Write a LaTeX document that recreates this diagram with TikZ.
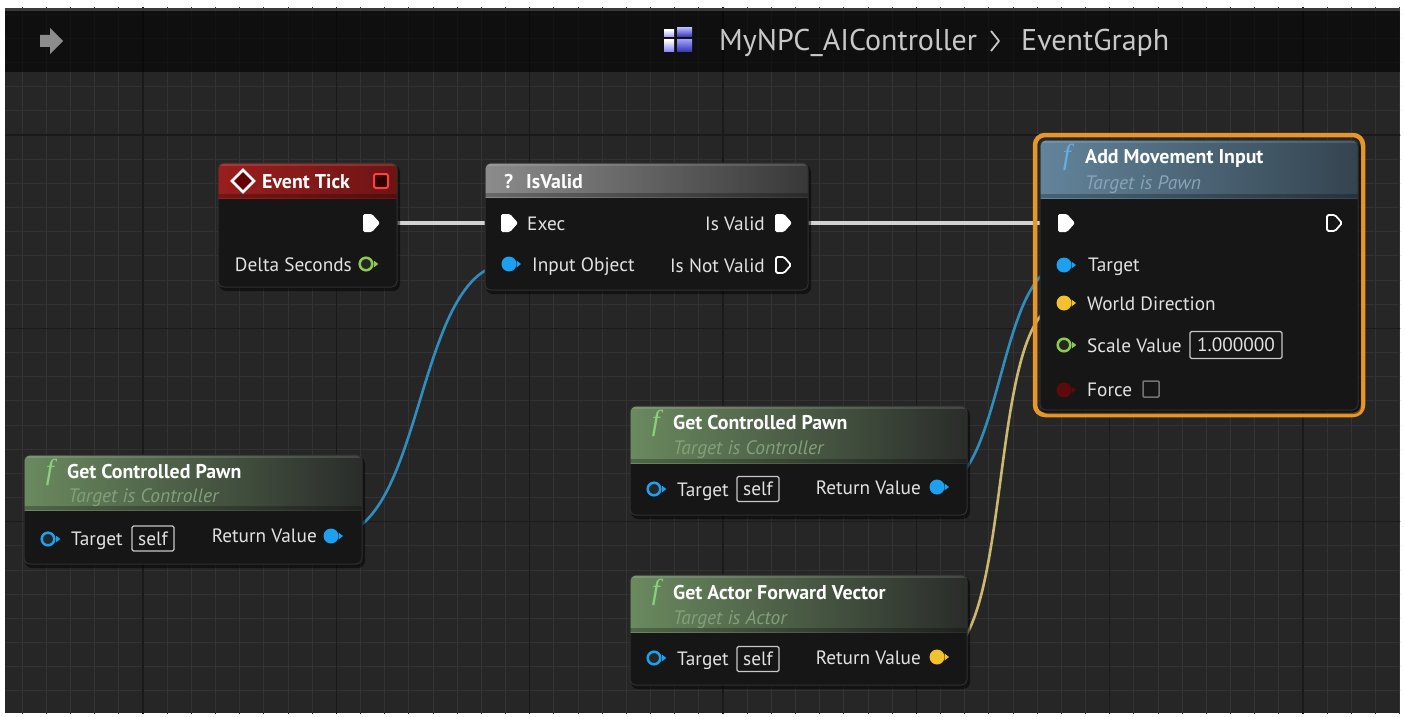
\documentclass[tikz,border=0pt]{standalone}
\usepackage{fontspec}
\setmainfont{PT Sans}
\newfontfamily\fserif{Liberation Serif}
\definecolor{bg}{HTML}{262626}
\definecolor{gridminor}{HTML}{333333}
\definecolor{gridmajor}{HTML}{1A1A1A}
\definecolor{nodebody}{HTML}{161616}
\definecolor{nodeedge}{HTML}{303030}
\definecolor{txt}{HTML}{E2E2E2}
\definecolor{pinblue}{HTML}{1EA0F0}
\definecolor{pinyellow}{HTML}{F2C12E}
\definecolor{pingreen}{HTML}{8CCB50}
\definecolor{pinred}{HTML}{5C0A0A}
\definecolor{wireblue}{HTML}{2F8DC0}
\definecolor{wireyellow}{HTML}{CDB872}
\definecolor{wirewhite}{HTML}{D2D2D2}
\definecolor{selorange}{HTML}{E8962A}
\definecolor{fgreen}{HTML}{8CCF7C}
\definecolor{fblue}{HTML}{62AEE6}
\definecolor{subgreen}{HTML}{83A07A}
\definecolor{subblue}{HTML}{8AA3B6}
\definecolor{titletxt}{HTML}{C8C8C8}
\definecolor{boxline}{HTML}{C8C8C8}
\definecolor{hdrredL}{HTML}{9A1E1E}
\definecolor{hdrredR}{HTML}{6E1414}
\definecolor{hdrgrayL}{HTML}{8C8C8C}
\definecolor{hdrgrayR}{HTML}{383838}
\definecolor{hdrblueL}{HTML}{62849B}
\definecolor{hdrblueR}{HTML}{34444F}
\definecolor{hdrgreenL}{HTML}{6A8A5F}
\definecolor{hdrgreenR}{HTML}{2A2C2A}

\newcommand{\bpnode}[7]{%
  \fill[black,opacity=0.5,rounded corners=7] (#1+1,#2+2) rectangle (#3+3,#4+4);
  \fill[nodebody,rounded corners=6] (#1,#2) rectangle (#3,#4);
  \begin{scope}
    \clip[rounded corners=6] (#1,#2) rectangle (#3,#4);
    \shade[left color=#6,right color=#7] (#1,#2) rectangle (#3,#5);
    \fill[white,opacity=0.12] (#1,#2) rectangle (#3,#2+3);
    \fill[black,opacity=0.25] (#1,#5-4) rectangle (#3,#5);
  \end{scope}
  \draw[nodeedge,line width=1,rounded corners=6] (#1,#2) rectangle (#3,#4);
}
\newcommand{\execpin}[1]{\fill[white,rounded corners=1.5] (#1) ++(-8,-9) -- ++(9,0) -- ++(8,9) -- ++(-8,9) -- ++(-9,0) -- cycle;}
\newcommand{\execpinhollow}[1]{\draw[white,line width=1.8,line join=round,rounded corners=1.5] (#1) ++(-7,-8) -- ++(8,0) -- ++(7,8) -- ++(-7,8) -- ++(-8,0) -- cycle;}
\newcommand{\datapin}[2]{\fill[#2] (#1) circle (7.5); \fill[#2] (#1) ++(7.5,-3.5) -- ++(4.5,3.5) -- ++(-4.5,3.5) -- cycle;}
\newcommand{\datapinhollow}[2]{\draw[#2,line width=2.5,fill=black!85] (#1) circle (6.3); \fill[#2] (#1) ++(7.8,-3.5) -- ++(4.5,3.5) -- ++(-4.5,3.5) -- cycle;}

\tikzset{
  lbl/.style={font=\fontsize{19.3}{22}\selectfont, text=txt, inner sep=0pt, anchor=base west, yshift=-7pt},
  lblr/.style={font=\fontsize{19.3}{22}\selectfont, text=txt, inner sep=0pt, anchor=base east, yshift=-7pt},
  ttl/.style={font=\bfseries\fontsize{19.9}{22}\selectfont, text=white, inner sep=0pt, anchor=base west, yshift=-7pt},
  sub/.style={font=\itshape\fontsize{19.5}{22}\selectfont, inner sep=0pt, anchor=base west, yshift=-7pt},
  crumb/.style={font=\fontsize{30}{34}\selectfont, text=titletxt, inner sep=0pt, anchor=base west},
  fsym/.style={font=\fserif\itshape\fontsize{29}{29}\selectfont, inner sep=0pt, anchor=base, yshift=-7pt},
  valbox/.style={draw=boxline, line width=1.2, rounded corners=1.5, font=\fontsize{19.3}{22}\selectfont, text=txt, inner sep=0pt},
  wire/.style={line width=2.6, line cap=round},
  execwire/.style={line width=3.2, wirewhite},
}

\begin{document}
\begin{tikzpicture}[x=1pt,y=-1pt]
\useasboundingbox (0,0) rectangle (1405,717);
\fill[white] (0,0) rectangle (1405,717);
\fill[bg] (5,8) rectangle (1400,713);
% grid
\begin{scope}
  \clip (5,8) rectangle (1400,713);
  \foreach \k in {-6,...,53} \draw[gridminor,line width=1] ({143+\k*24.1667},0) -- ++(0,717);
  \foreach \k in {-6,...,24} \draw[gridminor,line width=1] (0,{135+\k*24.1667}) -- ++(1405,0);
  \foreach \k in {-1,...,7} \draw[gridmajor,line width=1.6] ({143+\k*193.333},0) -- ++(0,717);
  \foreach \k in {-1,...,3} \draw[gridmajor,line width=1.6] (0,{135+\k*193.333}) -- ++(1405,0);
  % title bar
  \fill[black,opacity=0.6] (5,8) rectangle (1400,72);
  \fill[black!60!white,opacity=0.5] (5,8) rectangle (1400,11);
\end{scope}
% title bar contents
\fill[black!45!white] (40,35) -- (50,35) -- (50,28) -- (63,41) -- (50,54) -- (50,47) -- (40,47) -- cycle;
\shade[top color=white,bottom color=blue!40!white] (664,30) rectangle (674,37);
\shade[top color=blue!30!white,bottom color=blue!60!black!80!white] (677,28) rectangle (692,37);
\shade[top color=white,bottom color=blue!50!white] (664,40) rectangle (674,52);
\shade[top color=blue!40!white,bottom color=blue!60!black!80!white] (677,40) rectangle (692,52);
\node[crumb] (crumbA) at (719,51) {MyNPC\_AIController};
\draw[titletxt,line width=1.8,line join=round] (991,31) -- (999,41) -- (991,51);
\node[crumb] (crumbB) at (1021,51) {EventGraph};

% pin coordinates
\coordinate (et-exec) at (371,223);
\coordinate (et-delta) at (366,264);
\coordinate (iv-exec) at (509,223);
\coordinate (iv-in) at (509,264);
\coordinate (iv-valid) at (783,223);
\coordinate (iv-notvalid) at (783,265);
\coordinate (am-exec) at (1066,223);
\coordinate (am-out) at (1334,223);
\coordinate (am-target) at (1064,265);
\coordinate (am-wd) at (1064,303);
\coordinate (am-scale) at (1064,345);
\coordinate (am-force) at (1064,390);
\coordinate (ga-target) at (48,539);
\coordinate (ga-rv) at (331,536);
\coordinate (gb-target) at (654,489);
\coordinate (gb-rv) at (937,487);
\coordinate (gc-target) at (654,658);
\coordinate (gc-rv) at (937,657);

% wires
\draw[execwire] (et-exec) -- (iv-exec);
\draw[execwire] (iv-valid) -- (am-exec);
\draw[wire,wireblue] (ga-rv) .. controls +(95,0) and +(-95,0) .. (iv-in);
\draw[wire,wireblue] (gb-rv) .. controls +(66,0) and +(-66,0) .. (am-target);
\draw[wire,wireyellow] (gc-rv) .. controls +(80,0) and +(-80,0) .. (am-wd);

% Event Tick
\bpnode{218}{163}{397}{287}{198}{hdrredL}{hdrredR}
\draw[white,line width=2.8,fill=red!40!black] (243,170) -- (254,181) -- (243,192) -- (232,181) -- cycle;
\draw[red!75!white,line width=2,fill=red!20!black,rounded corners=2] (374,174) rectangle (388,188);
\node[ttl] (etTitle) at (262,181) {Event Tick};
\node[lblr] (etDelta) at (352,264) {Delta Seconds};
\execpin{et-exec}
\datapinhollow{et-delta}{pingreen}

% IsValid
\bpnode{485}{163}{808}{290}{197}{hdrgrayL}{hdrgrayR}
\node[ttl] (ivQ) at (504,181) {?};
\node[ttl] (ivTitle) at (526,181) {IsValid};
\node[lbl] (ivExec) at (527,223) {Exec};
\node[lbl] (ivIn) at (532,264) {Input Object};
\node[lblr] (ivValid) at (765,223) {Is Valid};
\node[lblr] (ivNot) at (765,265) {Is Not Valid};
\execpin{iv-exec}
\datapin{iv-in}{pinblue}
\execpin{iv-valid}
\execpinhollow{iv-notvalid}

% Add Movement Input (selected)
\draw[selorange,line width=4.5,rounded corners=10] (1035,135) rectangle (1363,415);
\bpnode{1040}{140}{1358}{410}{198}{hdrblueL}{hdrblueR}
\node[fsym,text=fblue] (amF) at (1067,157) {f};
\node[ttl] (amTitle) at (1085,156) {Add Movement Input};
\node[sub,text=subblue] (amSub) at (1085,182) {Target is Pawn};
\node[lbl] (amTarget) at (1088,264) {Target};
\node[lbl] (amWD) at (1087,303) {World Direction};
\node[lbl] (amScale) at (1087,345) {Scale Value};
\node[valbox,minimum width=92,minimum height=27] (amVal) at (1236,345) {1.000000};
\node[lbl] (amForce) at (1087,389) {Force};
\draw[black!55!white,line width=1.5,rounded corners=1] (1143,381) rectangle (1159,397);
\execpin{am-exec}
\execpinhollow{am-out}
\datapin{am-target}{pinblue}
\datapin{am-wd}{pinyellow}
\datapinhollow{am-scale}{pingreen}
\datapin{am-force}{pinred}

% Get Controlled Pawn (left)
\bpnode{24}{455}{362}{564}{510}{hdrgreenL}{hdrgreenR}
\node[fsym,text=fgreen] (gaF) at (50,472) {f};
\node[ttl] (gaTitle) at (67,471) {Get Controlled Pawn};
\node[sub,text=subgreen] (gaSub) at (68,495) {Target is Controller};
\node[lbl] (gaTarget) at (71,538) {Target};
\node[valbox,minimum width=42,minimum height=25] (gaSelf) at (153,538.5) {self};
\node[lblr] (gaRV) at (317,535) {Return Value};
\datapinhollow{ga-target}{pinblue}
\datapin{ga-rv}{pinblue}

% Get Controlled Pawn (middle)
\bpnode{630}{406}{967}{515}{463}{hdrgreenL}{hdrgreenR}
\node[fsym,text=fgreen] (gbF) at (656,423) {f};
\node[ttl] (gbTitle) at (673,422) {Get Controlled Pawn};
\node[sub,text=subgreen] (gbSub) at (673,447) {Target is Controller};
\node[lbl] (gbTarget) at (677,489) {Target};
\node[valbox,minimum width=42,minimum height=25] (gbSelf) at (758,489) {self};
\node[lblr] (gbRV) at (921,487) {Return Value};
\datapinhollow{gb-target}{pinblue}
\datapin{gb-rv}{pinblue}

% Get Actor Forward Vector
\bpnode{630}{575}{967}{685}{632}{hdrgreenL}{hdrgreenR}
\node[fsym,text=fgreen] (gcF) at (656,592) {f};
\node[ttl] (gcTitle) at (673,592) {Get Actor Forward Vector};
\node[sub,text=subgreen] (gcSub) at (673,617) {Target is Actor};
\node[lbl] (gcTarget) at (677,658) {Target};
\node[valbox,minimum width=42,minimum height=25] (gcSelf) at (758,659) {self};
\node[lblr] (gcRV) at (921,657) {Return Value};
\datapinhollow{gc-target}{pinblue}
\datapin{gc-rv}{pinyellow}
\end{tikzpicture}
\end{document}
